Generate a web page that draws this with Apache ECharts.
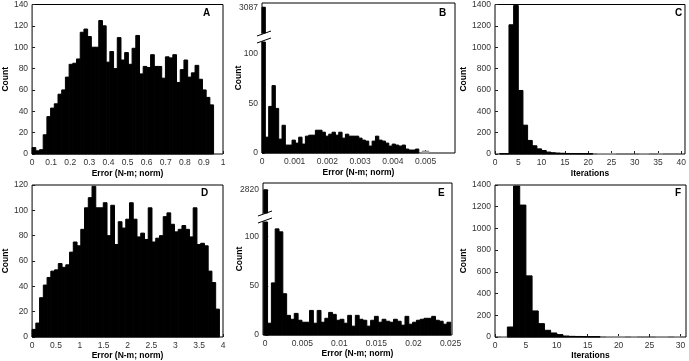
<!DOCTYPE html>
<html>
<head>
<meta charset="utf-8">
<script src="https://cdn.jsdelivr.net/npm/echarts@6/dist/echarts.min.js"></script>
<style>
  html, body { margin: 0; padding: 0; background: #fff; }
  #chart { width: 689px; height: 361px; }
</style>
</head>
<body>
<div id="chart"></div>
<script>
// histogram counts
const countsA = [6, 3, 4, 18, 35, 43, 47, 56, 60, 72, 84, 85, 89, 114, 117, 110, 100, 100, 125, 120,
  86, 96, 80, 109, 88, 95, 84, 99, 111, 75, 82, 81, 93, 82, 82, 71, 91, 90, 93, 67,
  79, 88, 72, 76, 83, 70, 60, 53, 46];
const countsB = [3087, 16, 47, 68, 45, 14, 28, 8, 8, 13, 10, 16, 9, 17, 18, 18, 23, 23, 21, 17,
  19, 21, 18, 21, 15, 19, 17, 17, 17, 15, 13, 12, 7, 12, 17, 13, 12, 10, 7, 9,
  8, 7, 8, 4, 3, 3, 4, 0, 2, 2];
const countsC = [3, 3, 1210, 1390, 595, 270, 127, 77, 48, 33, 18, 12, 9, 7, 5, 4, 4, 3, 3, 3,
  0, 2, 2, 2, 2, 0, 0, 0, 0, 0, 2, 2, 0, 0, 2];
const countsD = [6, 11, 31, 41, 47, 52, 53, 58, 55, 57, 67, 75, 72, 85, 102, 110, 119, 102, 102, 106,
  80, 104, 73, 91, 86, 93, 106, 93, 79, 82, 77, 102, 75, 78, 80, 95, 98, 89, 83, 85,
  88, 85, 79, 102, 73, 74, 72, 52, 43, 22];
const countsE = [2820, 12, 53, 108, 105, 42, 20, 16, 22, 15, 13, 13, 25, 12, 25, 13, 17, 23, 21, 15,
  16, 12, 20, 9, 20, 16, 15, 9, 15, 19, 13, 16, 14, 13, 16, 14, 10, 19, 11, 13,
  15, 16, 17, 17, 19, 15, 14, 11, 13];
const countsF = [2, 92, 1390, 1215, 563, 240, 123, 62, 37, 22, 9, 6, 5, 4, 3, 3, 0, 2, 2, 2,
  0, 2, 0, 0, 0, 2, 2, 0, 2];

// bin edges
const binStartA = 0, binWidthA = 0.0194;
const binStartB = 0, binWidthB = 0.000102;
const binStartC = 1, binWidthC = 1;
const binStartD = 0, binWidthD = 0.0785;
const binStartE = -0.0002, binWidthE = 0.000515;
const binStartF = 1, binWidthF = 1;

// tick labels
const xTicksA = [0, 0.1, 0.2, 0.3, 0.4, 0.5, 0.6, 0.7, 0.8, 0.9, 1];
const yTicksA = [0, 20, 40, 60, 80, 100, 120, 140];
const xTicksB = [0, 0.001, 0.002, 0.003, 0.004, 0.005];
const yTicksB = [0, 50, 100];
const yTopB = [3087];
const xTicksC = [0, 5, 10, 15, 20, 25, 30, 35, 40];
const yTicksC = [0, 200, 400, 600, 800, 1000, 1200, 1400];
const xTicksD = [0, 0.5, 1, 1.5, 2, 2.5, 3, 3.5, 4];
const yTicksD = [0, 20, 40, 60, 80, 100, 120];
const xTicksE = [0, 0.005, 0.01, 0.015, 0.02, 0.025];
const yTicksE = [0, 50, 100];
const yTopE = [2820];
const xTicksF = [0, 5, 10, 15, 20, 25, 30];
const yTicksF = [0, 200, 400, 600, 800, 1000, 1200, 1400];

const FONT = '"Liberation Sans", Arial, sans-serif';
const ERR = 'Error (N-m; norm)';

// panel boxes (px)
const P = {
  A: { left: 30, top: 3, width: 193, height: 151 },
  B: { left: 262, top: 3, width: 193, height: 150, gapTop: 33, gapBottom: 42 },
  C: { left: 495, top: 2, width: 191, height: 152 },
  D: { left: 30, top: 185, width: 193, height: 152 },
  E: { left: 263, top: 183, width: 189, height: 152, gapTop: 213, gapBottom: 222 },
  F: { left: 495, top: 185, width: 191, height: 152 },
};

const toBins = (start, width, counts) =>
  counts.map((c, i) => [start + i * width, start + (i + 1) * width, c]);

const renderBin = (params, api) => {
  const top = api.coord([api.value(0), api.value(2)]);
  const base = api.coord([api.value(1), 0]);
  const cs = params.coordSys;
  const rect = echarts.graphic.clipRectByRect(
    { x: top[0], y: top[1], width: base[0] - top[0], height: base[1] - top[1] },
    { x: cs.x, y: cs.y, width: cs.width, height: cs.height }
  );
  if (!rect || rect.height <= 0 || rect.width <= 0) return null;
  const faint = api.value(2) <= 2;
  const color = faint ? '#9a9a9a' : '#000';
  return { type: 'rect', shape: rect, style: { fill: color, stroke: color, lineWidth: 1 } };
};

const hist = (idx, data) => ({
  type: 'custom',
  xAxisIndex: idx,
  yAxisIndex: idx,
  encode: { x: [0, 1], y: 2 },
  data,
  renderItem: renderBin,
  silent: true,
});

const grid = (p, show) => ({
  left: p.left, top: p.top, width: p.width, height: p.height,
  show, borderColor: '#000', borderWidth: 1,
});

const axis = (gridIndex, min, max, ticks, extra) => Object.assign({
  type: 'value', gridIndex, min, max,
  axisLine: { show: false },
  axisTick: { show: true, inside: true, length: 3, customValues: ticks, lineStyle: { color: '#222' } },
  axisLabel: {
    customValues: ticks, color: '#333', fontSize: 8.5, fontFamily: FONT, margin: 4,
    formatter: (v) => String(v),
  },
  splitLine: { show: false },
}, extra);

const hidden = (gridIndex, min, max) => ({ type: 'value', gridIndex, min, max, show: false });

const nameStyle = { fontWeight: 'bold', fontSize: 8.5, color: '#000', fontFamily: FONT };
const xName = (name, gap) => ({ name, nameLocation: 'middle', nameGap: gap, nameTextStyle: nameStyle });
const yName = (gap) => ({ name: 'Count', nameLocation: 'middle', nameGap: gap, nameTextStyle: nameStyle });

// frame-only y axis carrying the "Count" title for broken panels
const frameY = (gridIndex, gap) => Object.assign({
  type: 'value', gridIndex, min: 0, max: 1,
  axisLine: { show: false }, axisTick: { show: false }, axisLabel: { show: false },
  splitLine: { show: false },
}, yName(gap));

const breakMark = (p) => ({
  type: 'group',
  z: 100,
  children: [
    { type: 'polygon', shape: { points: [[p.left - 5, p.gapTop + 3], [p.left + 9, p.gapTop - 2], [p.left + 9, p.gapBottom - 4], [p.left - 5, p.gapBottom + 1]] }, style: { fill: '#fff' } },
    { type: 'line', shape: { x1: p.left - 5, y1: p.gapTop + 3, x2: p.left + 9, y2: p.gapTop - 2 }, style: { stroke: '#000', lineWidth: 1 } },
    { type: 'line', shape: { x1: p.left - 5, y1: p.gapBottom + 1, x2: p.left + 9, y2: p.gapBottom - 4 }, style: { stroke: '#000', lineWidth: 1 } },
  ],
});

const upper = (p) => ({ left: p.left, top: p.top, width: p.width, height: p.gapTop - p.top, show: false });
const lower = (p) => ({ left: p.left, top: p.gapBottom, width: p.width, height: p.top + p.height - p.gapBottom, show: false });

const letter = (text, left, top) => ({
  text, left, top, padding: 0,
  textStyle: { fontSize: 10, fontWeight: 'bold', color: '#000', fontFamily: FONT },
});

const chart = echarts.init(document.getElementById('chart'));

chart.setOption({
  animation: false,
  backgroundColor: '#fff',
  title: [
    letter('A', 203, 8), letter('B', 439, 8), letter('C', 675, 8),
    letter('D', 201, 188), letter('E', 438, 188), letter('F', 675, 188),
  ],
  grid: [
    grid(P.A, true),          // 0
    grid(P.B, true),          // 1 frame
    upper(P.B),               // 2
    lower(P.B),               // 3
    grid(P.C, true),          // 4
    grid(P.D, true),          // 5
    grid(P.E, true),          // 6 frame
    upper(P.E),               // 7
    lower(P.E),               // 8
    grid(P.F, true),          // 9
  ],
  xAxis: [
    axis(0, 0, 1, xTicksA, xName(ERR, 15)),
    hidden(1, 0, 1),
    hidden(2, 0, 0.0059),
    axis(3, 0, 0.0059, xTicksB, xName(ERR, 15)),
    axis(4, 0, 40.8, xTicksC, xName('Iterations', 15)),
    axis(5, 0, 4, xTicksD, xName(ERR, 13)),
    hidden(6, 0, 1),
    hidden(7, -0.0003, 0.0252),
    axis(8, -0.0003, 0.0252, xTicksE, xName(ERR, 13)),
    axis(9, 0, 30.9, xTicksF, xName('Iterations', 13)),
  ],
  yAxis: [
    axis(0, 0, 140, yTicksA, yName(21)),
    frameY(1, 19),
    axis(2, 2400, 3200, yTopB),
    axis(3, 0, 112, yTicksB),
    axis(4, 0, 1400, yTicksC, yName(19)),
    axis(5, 0, 120, yTicksD, yName(21)),
    frameY(6, 19),
    axis(7, 2200, 3000, yTopE),
    axis(8, 0, 115, yTicksE),
    axis(9, 0, 1400, yTicksF, yName(19)),
  ],
  series: [
    hist(0, toBins(binStartA, binWidthA, countsA)),
    hist(2, toBins(binStartB, binWidthB, countsB)),
    hist(3, toBins(binStartB, binWidthB, countsB)),
    hist(4, toBins(binStartC, binWidthC, countsC)),
    hist(5, toBins(binStartD, binWidthD, countsD)),
    hist(7, toBins(binStartE, binWidthE, countsE)),
    hist(8, toBins(binStartE, binWidthE, countsE)),
    hist(9, toBins(binStartF, binWidthF, countsF)),
  ],
  graphic: [breakMark(P.B), breakMark(P.E)],
});

window.addEventListener('resize', () => chart.resize());
</script>
</body>
</html>
